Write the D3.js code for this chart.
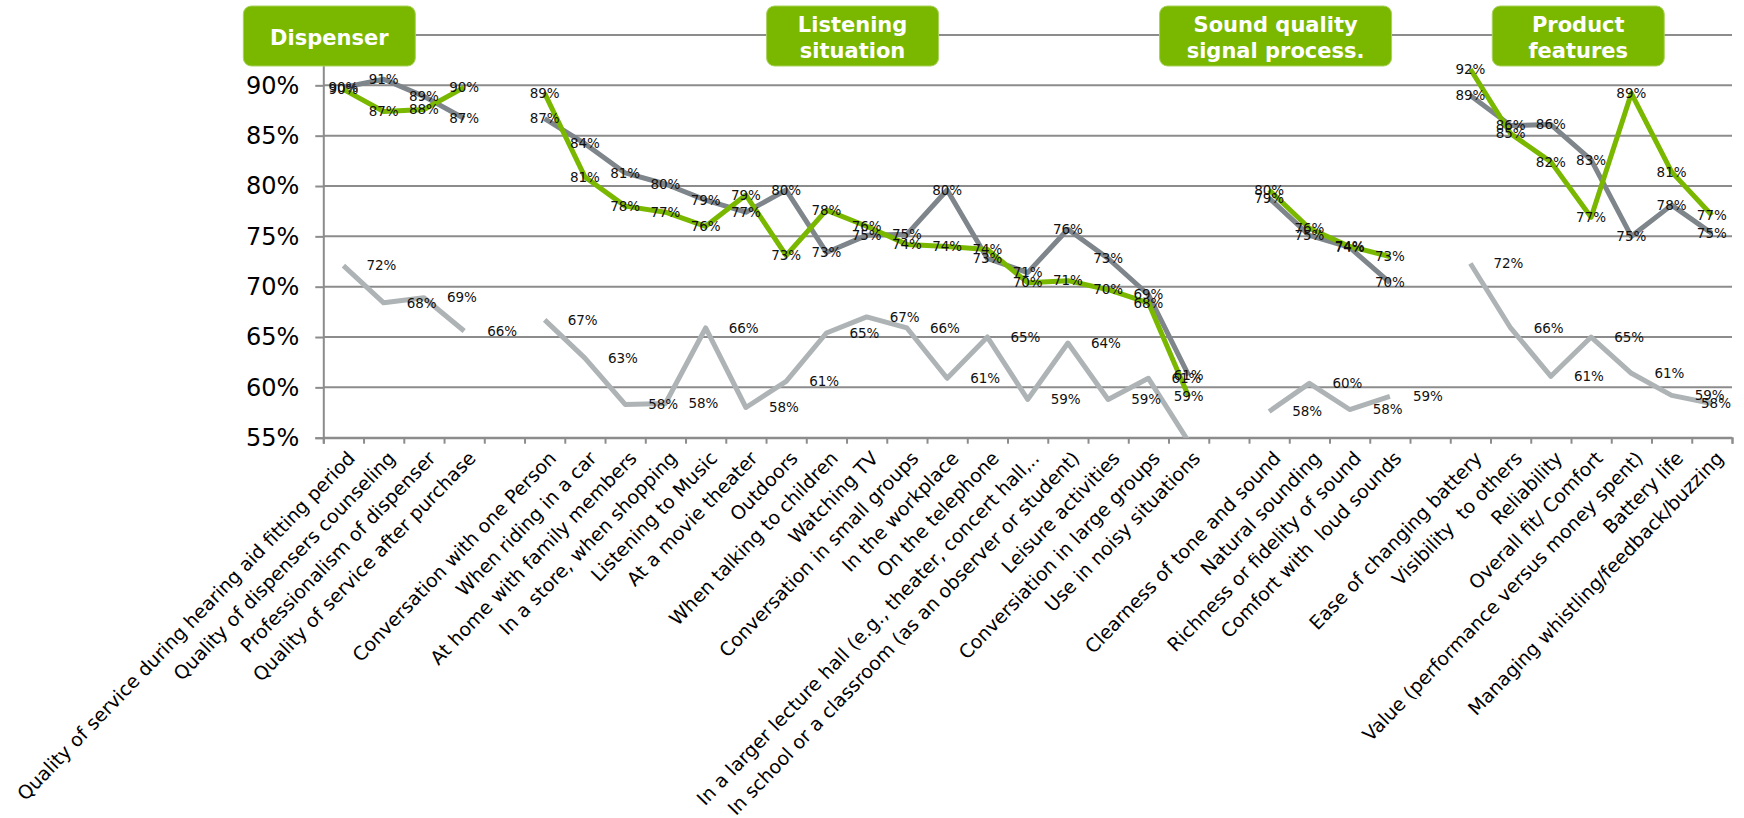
<!DOCTYPE html>
<html lang="en">
<head>
<meta charset="UTF-8">
<title>Satisfaction by category</title>
<style>
  body { margin: 0; background: #fff; }
  svg { display: block; font-family: "DejaVu Sans", Verdana, sans-serif; }
</style>
</head>
<body>
<script src="https://d3js.org/d3.v7.min.js"></script>
<div id="chart"></div>
<script>

// categories (empty strings are the gaps between groups)
const categories = [
  "Quality of service during hearing aid fitting period",
  "Quality of dispensers counseling",
  "Professionalism of dispenser",
  "Quality of service after purchase",
  "",
  "Conversation with one Person",
  "When riding in a car",
  "At home with family members",
  "In a store, when shopping",
  "Listening to Music",
  "At a movie theater",
  "Outdoors",
  "When talking to children",
  "Watching TV",
  "Conversation in small groups",
  "In the workplace",
  "On the telephone",
  "In a larger lecture hall (e.g., theater, concert hall,..",
  "In school or a classroom (as an observer or student)",
  "Leisure activities",
  "Conversiation in large groups",
  "Use in noisy situations",
  "",
  "Clearness of tone and sound",
  "Natural sounding",
  "Richness or fidelity of sound",
  "Comfort with  loud sounds",
  "",
  "Ease of changing battery",
  "Visibility  to others",
  "Reliability",
  "Overall fit/ Comfort",
  "Value (performance versus money spent)",
  "Battery life",
  "Managing whistling/feedback/buzzing"
];

// series values (%)
const greenValues = [89.6, 87.4, 87.6, 89.8, null,
  89.2, 80.9, 78.0, 77.4, 76.0, 79.1, 73.1, 77.6, 76.0, 74.2, 74.0, 73.7, 70.4, 70.6, 69.7, 68.4, 59.1, null,
  79.6, 75.8, 74.0, 73.0, null,
  91.6, 85.2, 82.4, 76.9, 89.2, 81.4, 77.1];

const darkValues = [89.8, 90.6, 88.9, 86.7, null,
  86.7, 84.2, 81.3, 80.2, 78.6, 77.4, 79.6, 73.4, 75.1, 75.2, 79.6, 72.8, 71.4, 75.7, 72.8, 69.2, 61.2, null,
  78.8, 75.1, 73.9, 70.4, null,
  89.0, 86.0, 86.1, 82.6, 75.0, 78.1, 75.3];

const lightValues = [72.1, 68.4, 68.9, 65.6, null,
  66.7, 62.9, 58.3, 58.4, 65.9, 58.0, 60.6, 65.4, 67.0, 65.9, 60.9, 65.0, 58.8, 64.4, 58.8, 60.9, 54.6, null,
  57.6, 60.4, 57.8, 59.1, null,
  72.3, 65.9, 61.1, 65.0, 61.4, 59.2, 58.4];

// y ticks
const yTicks = [55, 60, 65, 70, 75, 80, 85, 90, 95];

// group titles
const groupTitles = [["Dispenser"], ["Listening", "situation"], ["Sound quality", "signal process."], ["Product", "features"]];

const width = 1744, height = 818;
const plot = {left: 323.3, right: 1732, top: 35, bottom: 437.7};

const svg = d3.select("#chart").append("svg")
  .attr("width", width)
  .attr("height", height);

const x = d3.scaleBand()
  .domain(d3.range(categories.length))
  .range([plot.left, plot.right]);

const y = d3.scaleLinear()
  .domain([55, 95])
  .range([plot.bottom, plot.top]);

const cx = i => x(i) + x.bandwidth() / 2;

// gridlines
svg.append("g")
  .selectAll("line")
  .data(yTicks)
  .join("line")
    .attr("x1", plot.left).attr("x2", plot.right)
    .attr("y1", d => y(d)).attr("y2", d => y(d))
    .attr("stroke", "#8c8c8c")
    .attr("stroke-width", 2);

// y axis
const yAxis = svg.append("g")
  .attr("transform", `translate(${plot.left},0)`)
  .call(d3.axisLeft(y).tickValues(yTicks).tickSize(8).tickPadding(16).tickFormat(d => d + "%"));
yAxis.select(".domain").attr("stroke", "#8c8c8c").attr("stroke-width", 2);
yAxis.selectAll(".tick line").attr("stroke", "#8c8c8c").attr("stroke-width", 2);
yAxis.selectAll(".tick text")
  .attr("font-family", "DejaVu Sans")
  .attr("font-size", 24)
  .attr("fill", "#000");

// x axis ticks on the band edges
const xEdge = d3.scaleLinear().domain([0, categories.length]).range([plot.left, plot.right]);
const xAxis = svg.append("g")
  .attr("transform", `translate(0,${plot.bottom})`)
  .call(d3.axisBottom(xEdge).tickValues(d3.range(categories.length + 1)).tickSize(6).tickFormat(""));
xAxis.select(".domain").attr("stroke", "#8c8c8c").attr("stroke-width", 2);
xAxis.selectAll(".tick line").attr("stroke", "#8c8c8c").attr("stroke-width", 2);

// category labels
svg.append("g")
  .selectAll("text")
  .data(categories)
  .join("text")
    .attr("transform", (d, i) => `translate(${cx(i) + 8},${plot.bottom + 17}) rotate(-46)`)
    .attr("text-anchor", "end")
    .attr("dy", "0.35em")
    .attr("font-size", 19)
    .attr("fill", "#000")
    .style("white-space", "pre")
    .text(d => d);

// lines
svg.append("clipPath").attr("id", "clip")
  .append("rect")
    .attr("x", plot.left).attr("y", plot.top - 10)
    .attr("width", plot.right - plot.left)
    .attr("height", plot.bottom - plot.top + 10);

const series = [
  {values: darkValues, color: "#7e858b", label: "center"},
  {values: greenValues, color: "#7ab800", label: "center"},
  {values: lightValues, color: "#aeb3b5", label: "right"}
];

const line = d3.line()
  .defined(d => d != null)
  .x((d, i) => cx(i))
  .y(d => y(d));

svg.append("g")
  .attr("clip-path", "url(#clip)")
  .selectAll("path")
  .data(series)
  .join("path")
    .attr("d", s => line(s.values))
    .attr("fill", "none")
    .attr("stroke", s => s.color)
    .attr("stroke-width", 5)
    .attr("stroke-linejoin", "round");

// data labels
series.forEach(s => {
  const pts = s.values.map((v, i) => ({v, i})).filter(p => p.v != null && p.v >= 55);
  svg.append("g")
    .selectAll("text")
    .data(pts)
    .join("text")
      .attr("x", p => s.label === "center" ? cx(p.i) : Math.min(cx(p.i) + 23, plot.right - 31))
      .attr("y", p => y(p.v))
      .attr("dy", "0.35em")
      .attr("text-anchor", s.label === "center" ? "middle" : "start")
      .attr("font-size", 13.5)
      .attr("fill", "#111")
      .text(p => Math.round(p.v) + "%");
});

// group boxes (position in category units, width in px)
const boxAt = [-0.35, 12.65, 23.16, 30.68];
const boxW = [172, 172, 232, 172];
const boxTop = 6, boxH = 60;

const boxes = svg.append("g")
  .selectAll("g")
  .data(groupTitles)
  .join("g")
    .attr("transform", (d, i) => `translate(${x(0) + x.bandwidth() * (boxAt[i] + 0.5)},${boxTop})`);

boxes.append("rect")
  .attr("x", (d, i) => -boxW[i] / 2)
  .attr("width", (d, i) => boxW[i])
  .attr("height", boxH)
  .attr("rx", 8)
  .attr("fill", "#7ab800")
  .attr("stroke", "#a9d25f")
  .attr("stroke-width", 1);

boxes.each(function(d) {
  const g = d3.select(this);
  const base = d.length === 1 ? [boxH / 2 + 9] : [boxH / 2 - 4.5, boxH / 2 + 22];
  d.forEach((t, k) => {
    g.append("text")
      .attr("y", base[k])
      .attr("text-anchor", "middle")
      .attr("font-size", 21)
      .attr("font-weight", "bold")
      .attr("fill", "#fff")
      .text(t);
  });
});

</script>
</body>
</html>
